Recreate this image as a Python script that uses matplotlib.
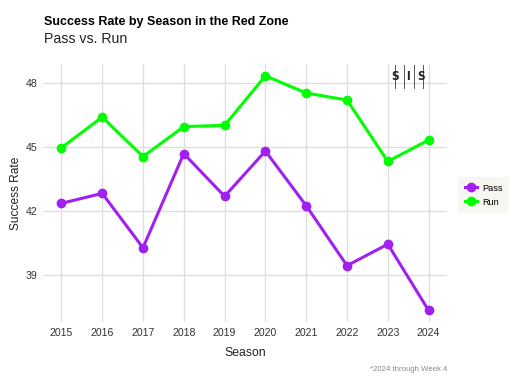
import matplotlib
matplotlib.use("Agg")
import matplotlib.pyplot as plt
from matplotlib.lines import Line2D

seasons = [2015, 2016, 2017, 2018, 2019, 2020, 2021, 2022, 2023, 2024]
pass_rate = [42.36, 42.83, 40.27, 44.70, 42.69, 44.82, 42.25, 39.43, 40.44, 37.32]
run_rate = [44.97, 46.42, 44.56, 45.97, 46.03, 48.36, 47.55, 47.22, 44.33, 45.34]
y_ticks = [39, 42, 45, 48]

pass_col = '#A020F0'
run_col = '#00FF00'
grid_col = '#DEDEDE'
text_col = '#222222'

plt.rcParams['font.family'] = ['Liberation Sans', 'DejaVu Sans']

fig = plt.figure(figsize=(5.12, 3.84), dpi=100)
ax = fig.add_axes([0.084, 0.161, 0.789, 0.672])

ax.plot(seasons, pass_rate, color=pass_col, lw=2.2, marker='o', ms=6, zorder=3)
ax.plot(seasons, run_rate, color=run_col, lw=2.2, marker='o', ms=6, zorder=3)

ax.set_xlim(2014.55, 2024.45)
ax.set_ylim(36.77, 48.91)
ax.set_xticks(seasons)
ax.set_yticks(y_ticks)
ax.tick_params(axis='both', length=0, labelsize=7.6, labelcolor='#333333', pad=4)
ax.grid(True, color=grid_col, lw=0.9)
ax.set_axisbelow(True)
for s in ax.spines.values():
    s.set_visible(False)

ax.set_xlabel('Season', fontsize=8.8, color=text_col, labelpad=7)
ax.set_ylabel('Success Rate', fontsize=8.6, color=text_col, labelpad=3)

fig.text(0.086, 0.942, 'Success Rate by Season in the Red Zone', fontsize=9,
         fontweight='bold', color='black', va='center')
fig.text(0.086, 0.898, 'Pass vs. Run', fontsize=10.2, color=text_col, va='center')
fig.text(0.873, 0.037, '*2024 through Week 4', fontsize=5.6, color='#888888',
         ha='right', va='center')

# SIS logo
fig.text(0.799, 0.80, 'S  I  S', fontsize=8.5, fontweight='bold', color='#222222',
         ha='center', va='center', fontstretch='condensed', family='DejaVu Sans')
for xb in [0.772, 0.790, 0.808, 0.826]:
    fig.add_artist(Line2D([xb, xb], [0.772, 0.832], color='#555555', lw=0.7))

handles = [Line2D([], [], color=pass_col, lw=2.2, marker='o', ms=6),
           Line2D([], [], color=run_col, lw=2.2, marker='o', ms=6)]
leg = fig.legend(handles, ['Pass', 'Run'], loc='center left',
                 bbox_to_anchor=(0.886, 0.492), fontsize=6.6, frameon=True,
                 handlelength=1.3, handletextpad=0.6, borderpad=0.7,
                 labelspacing=0.55)
leg.get_frame().set_facecolor('#F5F4EE')
leg.get_frame().set_edgecolor('none')
leg.get_frame().set_boxstyle('square', pad=0)

fig.savefig('out.png', dpi=100, facecolor='white')
